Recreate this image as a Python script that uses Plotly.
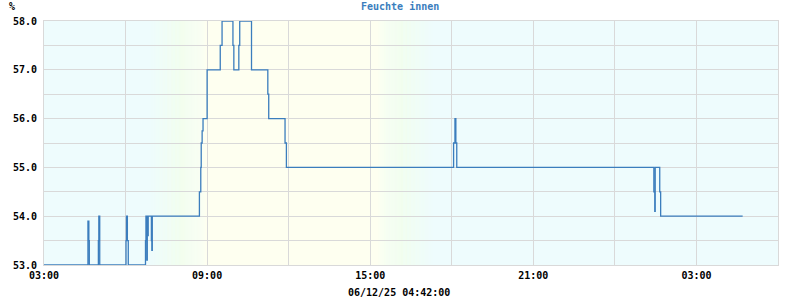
import plotly.graph_objects as go
import pandas as pd

# ---- data (step series) ----
times = [
    "2025-06-11 03:00", "2025-06-11 04:37", "2025-06-11 04:39", "2025-06-11 04:40",
    "2025-06-11 05:00", "2025-06-11 05:01", "2025-06-11 05:03",
    "2025-06-11 06:01", "2025-06-11 06:02", "2025-06-11 06:04", "2025-06-11 06:06",
    "2025-06-11 06:44", "2025-06-11 06:45", "2025-06-11 06:47", "2025-06-11 06:48",
    "2025-06-11 06:49", "2025-06-11 06:50", "2025-06-11 06:57", "2025-06-11 06:58",
    "2025-06-11 06:59",
    "2025-06-11 08:43", "2025-06-11 08:46", "2025-06-11 08:47", "2025-06-11 08:49",
    "2025-06-11 08:51", "2025-06-11 09:00", "2025-06-11 09:29", "2025-06-11 09:33",
    "2025-06-11 09:57", "2025-06-11 09:59", "2025-06-11 10:10", "2025-06-11 10:12",
    "2025-06-11 10:38", "2025-06-11 11:14", "2025-06-11 11:16", "2025-06-11 11:52",
    "2025-06-11 11:55",
    "2025-06-11 18:04", "2025-06-11 18:07", "2025-06-11 18:09", "2025-06-11 18:11",
    "2025-06-12 01:26", "2025-06-12 01:28", "2025-06-12 01:29", "2025-06-12 01:39",
    "2025-06-12 01:41", "2025-06-12 04:42",
]
values = [
    53.0, 53.9, 53.5, 53.0,
    53.5, 54.0, 53.0,
    53.5, 54.0, 53.5, 53.0,
    53.5, 54.0, 53.1, 54.0,
    53.6, 54.0, 53.5, 53.3,
    54.0,
    54.5, 55.0, 55.5, 55.75,
    56.0, 57.0, 57.5, 58.0,
    57.5, 57.0, 57.5, 58.0,
    57.0, 56.5, 56.0, 55.5,
    55.0,
    55.5, 56.0, 55.5, 55.0,
    54.5, 54.1, 55.0, 54.5,
    54.0, 54.0,
]

title_text = "Feuchte innen"
unit_text = "%"
stamp_text = "06/12/25 04:42:00"

x_start = "2025-06-11 03:00"
x_end = "2025-06-12 06:00"

# background day/night gradient stops
bg_times = ["2025-06-11 06:50", "2025-06-11 08:00", "2025-06-11 08:55",
            "2025-06-11 15:15", "2025-06-11 16:10", "2025-06-11 17:20"]
NIGHT = (238, 252, 253)
GREEN = (242, 254, 238)
DAY = (254, 255, 240)
bg_colors = [NIGHT, GREEN, DAY, DAY, GREEN, NIGHT]

LINE = "#3b7dbd"
GRID = "#d9d9d9"
FONT = "DejaVu Sans Mono"

fig = go.Figure()
fig.add_trace(go.Scatter(
    x=pd.to_datetime(times), y=values, mode="lines",
    line=dict(color=LINE, width=1.3, shape="hv"), hoverinfo="skip",
    showlegend=False,
))

# gradient background shapes
shapes = []
bt = pd.to_datetime(bg_times)
N = 24
for i in range(len(bt) - 1):
    t0, t1 = bt[i], bt[i + 1]
    c0, c1 = bg_colors[i], bg_colors[i + 1]
    n = 1 if c0 == c1 else N
    for k in range(n):
        f = (k + 0.5) / n
        col = tuple(round(c0[j] + (c1[j] - c0[j]) * f) for j in range(3))
        a = t0 + (t1 - t0) * (k / n)
        b = t0 + (t1 - t0) * ((k + 1) / n)
        shapes.append(dict(
            type="rect", xref="x", yref="paper", x0=a, x1=b, y0=0, y1=1,
            fillcolor="rgb(%d,%d,%d)" % col, line=dict(width=0), layer="below",
        ))

tickfont = dict(family=FONT, size=10, color="black", weight="bold")

fig.update_layout(
    width=800, height=300, autosize=False,
    margin=dict(l=44, r=22, t=21, b=35),
    paper_bgcolor="white",
    plot_bgcolor="rgb(%d,%d,%d)" % NIGHT,
    shapes=shapes,
    xaxis=dict(
        type="date", range=[x_start, x_end],
        tick0=x_start, dtick=6 * 3600000, tickformat="%H:%M",
        showgrid=True, gridcolor=GRID, gridwidth=1,
        minor=dict(tick0=x_start, dtick=3 * 3600000, showgrid=True,
                   gridcolor=GRID, gridwidth=1),
        showline=True, mirror=True, linecolor=GRID, linewidth=1,
        zeroline=False, ticks="", tickfont=tickfont, ticklabelstandoff=1,
    ),
    yaxis=dict(
        range=[53, 58], tick0=53, dtick=1, tickformat=".1f",
        showgrid=True, gridcolor=GRID, gridwidth=1,
        minor=dict(tick0=53, dtick=0.5, showgrid=True, gridcolor=GRID,
                   gridwidth=1),
        showline=True, mirror=True, linecolor=GRID, linewidth=1,
        zeroline=False, ticks="", tickfont=tickfont, ticklabelstandoff=4,
    ),
    annotations=[
        dict(text="<b>%s</b>" % title_text, xref="paper", yref="paper",
             x=(400 - 44) / 734, y=1, xanchor="center", yanchor="middle",
             yshift=15, showarrow=False,
             font=dict(family=FONT, size=10, color="#3b7dbd")),
        dict(text="<b>%s</b>" % unit_text, xref="paper", yref="paper",
             x=(12 - 44) / 734, y=1, xanchor="center", yanchor="middle",
             yshift=15, showarrow=False,
             font=dict(family=FONT, size=10, color="black")),
        dict(text="<b>%s</b>" % stamp_text, xref="paper", yref="paper",
             x=(399 - 44) / 734, y=0, xanchor="center", yanchor="middle",
             yshift=-27, showarrow=False,
             font=dict(family=FONT, size=10, color="black")),
    ],
)

fig.write_html("out.html")
